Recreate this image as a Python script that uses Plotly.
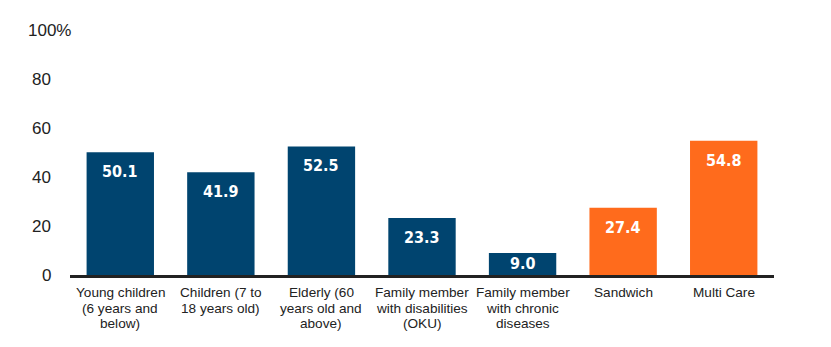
import plotly.graph_objects as go

categories = [
    "Young children<br>(6 years and<br>below)",
    "Children (7 to<br>18 years old)",
    "Elderly (60<br>years old and<br>above)",
    "Family member<br>with disabilities<br>(OKU)",
    "Family member<br>with chronic<br>diseases",
    "Sandwich",
    "Multi Care",
]
values = [50.1, 41.9, 52.5, 23.3, 9.0, 27.4, 54.8]
bar_colors = ["#00446F"] * 5 + ["#FF6B1C"] * 2

y_ticks = [0, 20, 40, 60, 80, 100]
y_tick_labels = ["0", "20", "40", "60", "80", "100%"]

Y_MAX = 100
PLOT_TOP, PLOT_BOTTOM = 30, 72
HEIGHT = 347
px_per_unit = (HEIGHT - PLOT_TOP - PLOT_BOTTOM) / Y_MAX

fig = go.Figure(
    go.Bar(
        x=categories,
        y=values,
        marker=dict(color=bar_colors, line=dict(width=0)),
        hoverinfo="skip",
    )
)

# value labels inside the top of each bar (centred in very short bars)
for cat, val in zip(categories, values):
    shift = min(19.5, val * px_per_unit / 2)
    fig.add_annotation(
        x=cat, y=val, text=f"{val:.1f}", showarrow=False,
        yanchor="middle", yshift=-shift,
        font=dict(family="DejaVu Sans Condensed", size=16, color="white",
                  weight="bold"),
    )

# multi-line category labels with tight line spacing
for cat in categories:
    for i, line in enumerate(cat.split("<br>")):
        fig.add_annotation(
            x=cat, y=0, yref="paper", text=line, showarrow=False,
            yanchor="middle", yshift=-(17.5 + i * 15.5),
            font=dict(family="Liberation Sans, Arial", size=13.6,
                      color="#222222"),
        )

# y tick labels: numbers right-aligned, top label carries the percent sign
for val, lab in zip(y_ticks, y_tick_labels):
    anchor_shift = -17 if lab != "100%" else 3
    fig.add_annotation(
        x=0, xref="paper", y=val, yref="y", text=lab, showarrow=False,
        xanchor="right", yanchor="middle", xshift=anchor_shift,
        font=dict(family="Liberation Sans, Arial", size=17, color="#222222"),
    )

fig.update_layout(
    width=831, height=HEIGHT,
    margin=dict(l=70, r=57, t=PLOT_TOP, b=PLOT_BOTTOM),
    paper_bgcolor="white", plot_bgcolor="white",
    bargap=0.33,
    showlegend=False,
    font=dict(family="Liberation Sans, Arial", color="#222222"),
)
fig.update_xaxes(
    showline=True, linecolor="#222222", linewidth=3,
    ticks="", showticklabels=False,
)
fig.update_yaxes(
    range=[0, Y_MAX], tickvals=y_ticks, showticklabels=False,
    showgrid=False, zeroline=False, showline=False,
)

fig.write_html("out.html")
